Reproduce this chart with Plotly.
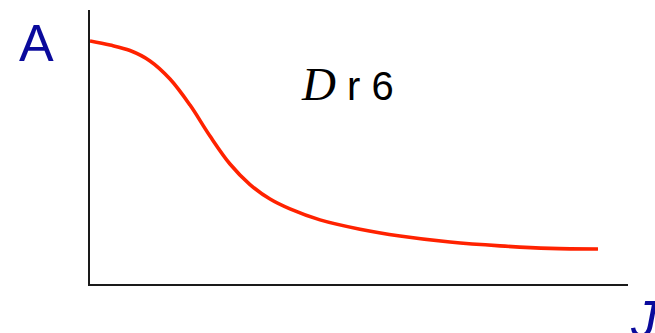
import plotly.graph_objects as go

# Curve samples (J on the horizontal axis, A on the vertical axis)
j_values = [0.0, 0.372, 0.743, 1.115, 1.487, 1.859, 2.230, 2.602, 2.974, 3.346,
            3.717, 4.275, 5.019, 5.762, 6.691, 7.621, 8.550, 9.442]
a_values = [8.87, 8.72, 8.52, 8.14, 7.48, 6.53, 5.40, 4.38, 3.63, 3.10,
            2.74, 2.34, 2.00, 1.75, 1.53, 1.39, 1.30, 1.28]

y_label = "A"
x_label = "J"
curve_label = "<span style='font-family:\"Liberation Serif\";font-size:47px'><i>D</i></span> r 6"

BLUE = "#0a0a9c"
RED = "#ff2200"

fig = go.Figure()
fig.add_trace(go.Scatter(
    x=j_values, y=a_values, mode="lines",
    line=dict(color=RED, width=3.6, shape="spline", smoothing=1.0),
    hoverinfo="skip", showlegend=False,
))

fig.update_layout(
    width=655, height=333,
    margin=dict(l=90, r=27, t=10, b=49),
    paper_bgcolor="white", plot_bgcolor="white",
    xaxis=dict(range=[0, 10], showline=True, linecolor="#1a1a1a", linewidth=2,
               showgrid=False, zeroline=False, showticklabels=False, ticks=""),
    yaxis=dict(range=[0, 10], showline=True, linecolor="#1a1a1a", linewidth=2,
               showgrid=False, zeroline=False, showticklabels=False, ticks=""),
    annotations=[
        dict(text=y_label, xref="paper", yref="paper", x=-0.099, y=0.88,
             xanchor="center", yanchor="middle", showarrow=False,
             font=dict(family="Liberation Sans", size=52, color=BLUE)),
        dict(text="<i>" + x_label + "</i>", xref="paper", yref="paper", x=1.0, y=-0.015,
             xanchor="left", yanchor="top", showarrow=False,
             font=dict(family="Liberation Sans", size=52, color=BLUE)),
        dict(text=curve_label, xref="paper", yref="paper", x=0.478, y=0.73,
             xanchor="center", yanchor="middle", showarrow=False,
             font=dict(family="Liberation Sans", size=40, color="black")),
    ],
)

fig.write_html("out.html")
